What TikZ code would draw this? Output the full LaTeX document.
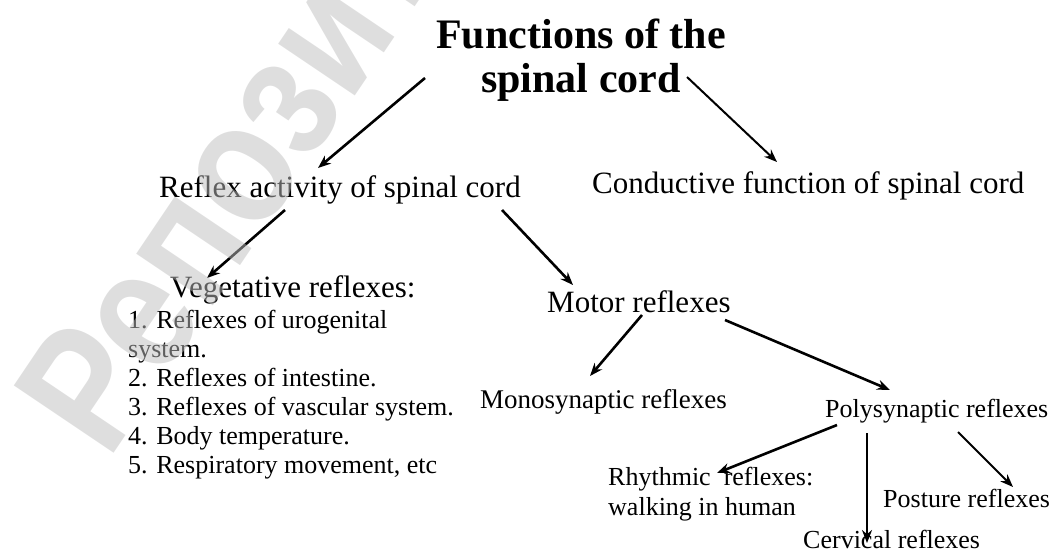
\documentclass[tikz,border=0pt]{standalone}
\usepackage{fontspec}
\setmainfont{Liberation Serif}
\newfontfamily\wmfont{Liberation Sans}
\usetikzlibrary{arrows.meta,calc}
\definecolor{wmgray}{RGB}{190,190,190}

\begin{document}
\begin{tikzpicture}[x=1pt, y=-1pt, >={Stealth[length=13pt,width=10pt]},
  lbl/.style={inner sep=0pt, anchor=base west, font=\rmfamily\fontsize{31}{36}\selectfont},
  itemtxt/.style={lbl, font=\rmfamily\fontsize{26}{30}\selectfont},
  head/.style={inner sep=0pt, anchor=base, font=\rmfamily\fontsize{42}{44}\selectfont\bfseries},
  link/.style={->, line width=2.6pt},
  thinlink/.style={->, line width=2pt}]

\useasboundingbox (0,0) rectangle (1059,552);

% Title
\node[head] (title) at (581,48) {Functions of the};
\node[head] (title2) at (581,92) {spinal cord};

% Second level
\node[lbl] (reflex) at (159,197) {Reflex activity of spinal cord};
\node[lbl] (conduct) at (592,193) {Conductive function of spinal cord};

% Vegetative reflexes and their list
\node[lbl] (veget) at (170,297) {Vegetative reflexes:};
\foreach \txt [count=\i] in {1. Reflexes of urogenital, system., 2. Reflexes of intestine.,
    3. Reflexes of vascular system., 4. Body temperature., {5. Respiratory movement, etc}}
  \node[itemtxt] (item\i) at (128,299+29*\i) {\txt};

% Motor reflexes
\node[lbl] (motor) at (547,312) {Motor reflexes};
\node[itemtxt, font=\rmfamily\fontsize{27}{30}\selectfont] (mono) at (480,408) {Monosynaptic reflexes};
\node[itemtxt] (poly) at (825,417) {Polysynaptic reflexes};
\node[itemtxt, align=left] (rhythm) at (608,515) {Rhythmic\ \ reflexes:\\walking in human};
\node[itemtxt] (post) at (883,507) {Posture reflexes};
\node[itemtxt] (cerv) at (803,548) {Cervical reflexes};

% Arrows
\draw[link] ([shift={(-156,-14)}]title2.base) -- ([shift={(159,-29)}]reflex.base west);
\draw[thinlink] ([shift={(106,-15)}]title2.base) -- ([shift={(185,-31)}]conduct.base west);
\draw[link] ([shift={(126,13)}]reflex.base west) -- ([shift={(37,-19)}]veget.base west);
\draw[link] ([shift={(343,13)}]reflex.base west) -- ([shift={(26,-27)}]motor.base west);
\draw[link] ([shift={(95,3)}]motor.base west) -- ([shift={(110,-32)}]mono.base west);
\draw[link] ([shift={(178,8)}]motor.base west) -- ([shift={(65,-27)}]poly.base west);
\draw[link] ([shift={(12,8)}]poly.base west) -- ([shift={(109,-42)}]rhythm.base west);
\draw[link] ([shift={(42,16)}]poly.base west) -- ([shift={(64,-5)}]cerv.base west);
\draw[thinlink] ([shift={(133,15)}]poly.base west) -- ([shift={(130,-20)}]post.base west);

% Watermark on top
\begin{scope}
\clip (0,0) rectangle (1059,552);
\begin{scope}[shift={(108,462)}, rotate=56, xscale=0.85, transform shape]
\node[anchor=base west, inner sep=0pt, text=wmgray, text opacity=0.5,
  font=\wmfont\bfseries\fontsize{175}{180}\selectfont] (wm) at (0,0) {Репозиторий};
\end{scope}
\end{scope}

\end{tikzpicture}
\end{document}
